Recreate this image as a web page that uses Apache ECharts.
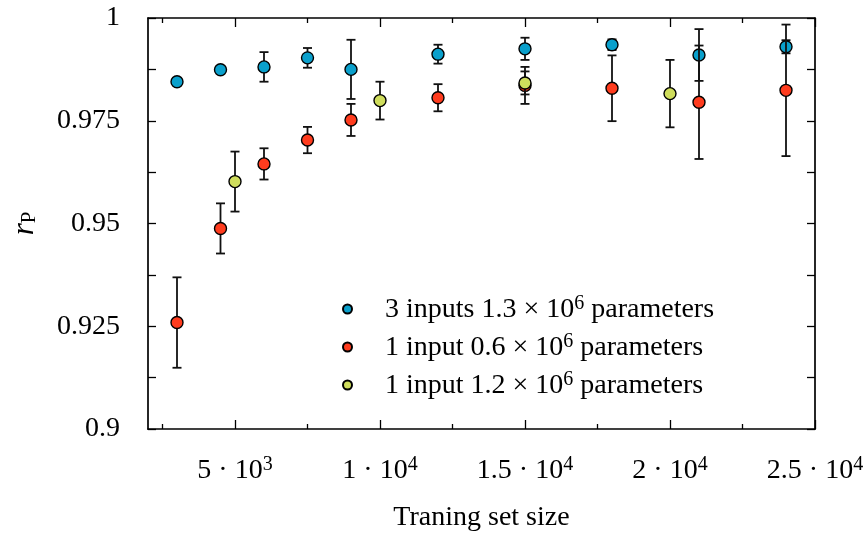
<!DOCTYPE html>
<html>
<head>
<meta charset="utf-8">
<script src="https://cdn.jsdelivr.net/npm/echarts@6/dist/echarts.min.js"></script>
<style>
html,body{margin:0;padding:0;background:#fff;}
#main{width:866px;height:534px;}
</style>
</head>
<body>
<div id="main"></div>
<script>
// axis ranges and ticks
var xRange = [2000, 25000];
var yRange = [0.9, 1];
var xMajorTicks = [5000, 10000, 15000, 20000, 25000];
var xMinorTicks = [2500, 7500, 12500, 17500, 22500];
var xTickLabels = ['5 · 10^3', '1 · 10^4', '1.5 · 10^4', '2 · 10^4', '2.5 · 10^4'];
var yTickStep = 0.0125;
var yLabelValues = [0.9, 0.925, 0.95, 0.975, 1];
var yTickLabels = ['0.9', '0.925', '0.95', '0.975', '1'];

// series
var seriesNames = [
    '3 inputs 1.3 × 10^6 parameters',
    '1 input 0.6 × 10^6 parameters',
    '1 input 1.2 × 10^6 parameters'
];

var sizeThree = [3000, 4500, 6000, 7500, 9000, 12000, 15000, 18000, 21000, 24000];
var rThree    = [0.9845, 0.9874, 0.9881, 0.9903, 0.9875, 0.9912, 0.9925, 0.9935, 0.9910, 0.9930];
var errThree  = [0.0004, 0.0005, 0.0036, 0.0024, 0.0072, 0.0023, 0.0027, 0.0013, 0.0063, 0.0016];

var sizeOneSmall = [3000, 4500, 6000, 7500, 9000, 12000, 15000, 18000, 21000, 24000];
var rOneSmall    = [0.9259, 0.9488, 0.9645, 0.9703, 0.9752, 0.9806, 0.9836, 0.9829, 0.9795, 0.9824];
var errOneSmall  = [0.0110, 0.0061, 0.0038, 0.0032, 0.0039, 0.0033, 0.0045, 0.0080, 0.0138, 0.0160];

var sizeOneBig = [5000, 10000, 15000, 20000];
var rOneBig    = [0.9602, 0.9799, 0.9842, 0.9816];
var errOneBig  = [0.0073, 0.0046, 0.0028, 0.0082];

var FONT = 'Liberation Serif';
var FS = 28;

function toRich(s){
    return s.split(/\^(\d+)/).map(function(p, i){
        if(p === '') return '';
        return i % 2 ? '{sup|' + p + '}' : '{n|' + p + '}';
    }).join('');
}

function richStyle(lh){
    return {
        n: {fontFamily: FONT, fontSize: FS, color: '#000', lineHeight: lh, verticalAlign: 'bottom'},
        sup: {fontFamily: FONT, fontSize: 20, color: '#000', lineHeight: 16, verticalAlign: 'top'}
    };
}

function zip(xs, ys, es){
    return xs.map(function(x, i){ return [x, ys[i], es[i]]; });
}

function errorBars(params, api){
    var x = api.value(0), y = api.value(1), e = api.value(2);
    var top = api.coord([x, y + e]);
    var bot = api.coord([x, y - e]);
    var w = 4.5;
    var style = {stroke: '#111', lineWidth: 1.8};
    return {
        type: 'group',
        children: [
            {type: 'line', shape: {x1: top[0], y1: top[1], x2: bot[0], y2: bot[1]}, style: style},
            {type: 'line', shape: {x1: top[0] - w, y1: top[1], x2: top[0] + w, y2: top[1]}, style: style},
            {type: 'line', shape: {x1: bot[0] - w, y1: bot[1], x2: bot[0] + w, y2: bot[1]}, style: style}
        ]
    };
}

function makeSeries(name, color, data, z){
    return [{
        name: name + ' err',
        type: 'custom',
        renderItem: errorBars,
        data: data,
        z: z,
        silent: true
    }, {
        name: name,
        type: 'scatter',
        data: data,
        symbolSize: 12,
        z: z + 1,
        itemStyle: {color: color, borderColor: '#000', borderWidth: 1.4, opacity: 1}
    }];
}

function valueAxis(extra){
    var base = {
        type: 'value',
        min: xRange[0],
        max: xRange[1],
        splitLine: {show: false},
        axisLine: {show: true, lineStyle: {color: '#000', width: 1.7}},
        axisLabel: {show: false}
    };
    for(var k in extra){ base[k] = extra[k]; }
    return base;
}

function create_chart(){
    var grid = {left: 148, right: 51, top: 18, bottom: 105, outerBoundsMode: 'none', containLabel: false};
    var majorTick = {show: true, inside: true, length: 9, customValues: xMajorTicks, lineStyle: {color: '#000', width: 1.3}};
    var minorTick = {show: true, inside: true, length: 5, customValues: xMinorTicks, lineStyle: {color: '#000', width: 1.3}};
    var yTick = {show: true, inside: true, length: 8, lineStyle: {color: '#000', width: 1.3}};

    var series = []
        .concat(makeSeries(seriesNames[0], '#0aa0cc', zip(sizeThree, rThree, errThree), 1))
        .concat(makeSeries(seriesNames[1], '#ff3c1e', zip(sizeOneSmall, rOneSmall, errOneSmall), 3))
        .concat(makeSeries(seriesNames[2], '#cfdd5c', zip(sizeOneBig, rOneBig, errOneBig), 5));

    return {
        animation: false,
        backgroundColor: '#fff',
        grid: [grid, grid],
        legend: {
            data: seriesNames,
            orient: 'vertical',
            left: 337,
            top: 289,
            itemWidth: 9,
            itemHeight: 9,
            itemGap: 8,
            selectedMode: false,
            formatter: function(name){ return toRich(name); },
            textStyle: {padding: [0, 0, 0, 28], rich: richStyle(30)}
        },
        xAxis: [
            valueAxis({
                gridIndex: 0,
                position: 'bottom',
                axisTick: majorTick,
                axisLabel: {
                    show: true,
                    customValues: xMajorTicks,
                    margin: 26,
                    formatter: function(v){
                        var i = xMajorTicks.indexOf(v);
                        return i < 0 ? '' : toRich(xTickLabels[i]);
                    },
                    rich: richStyle(30)
                },
                name: 'Traning set size',
                nameLocation: 'middle',
                nameGap: 75,
                nameTextStyle: {fontFamily: FONT, fontSize: FS, color: '#000'}
            }),
            valueAxis({gridIndex: 0, position: 'top', axisTick: majorTick}),
            valueAxis({gridIndex: 1, position: 'bottom', axisTick: minorTick, axisLine: {show: false}}),
            valueAxis({gridIndex: 1, position: 'top', axisTick: minorTick, axisLine: {show: false}})
        ],
        yAxis: [{
            gridIndex: 0,
            type: 'value',
            position: 'left',
            min: yRange[0],
            max: yRange[1],
            interval: yTickStep,
            splitLine: {show: false},
            axisLine: {show: true, lineStyle: {color: '#000', width: 1.7}},
            axisTick: yTick,
            axisLabel: {
                show: true,
                margin: 28,
                color: '#000',
                fontFamily: FONT,
                fontSize: FS,
                formatter: function(v){
                    for(var i = 0; i < yLabelValues.length; i++){
                        if(Math.abs(yLabelValues[i] - v) < 1e-6) return yTickLabels[i];
                    }
                    return '';
                }
            },
            name: '{r|r}{sub|P}',
            nameLocation: 'middle',
            nameGap: 108,
            nameRotate: 90,
            nameTextStyle: {
                rich: {
                    r: {fontFamily: FONT, fontStyle: 'italic', fontSize: 31, color: '#000', lineHeight: 30},
                    sub: {fontFamily: FONT, fontSize: 21, color: '#000', lineHeight: 22, verticalAlign: 'bottom'}
                }
            }
        }, {
            gridIndex: 0,
            type: 'value',
            position: 'right',
            min: yRange[0],
            max: yRange[1],
            interval: yTickStep,
            splitLine: {show: false},
            axisLine: {show: true, lineStyle: {color: '#000', width: 1.7}},
            axisTick: yTick,
            axisLabel: {show: false}
        }, {
            gridIndex: 1,
            type: 'value',
            show: false,
            min: yRange[0],
            max: yRange[1]
        }],
        series: series
    };
}

var myChart = echarts.init(document.getElementById('main'), null, {renderer: 'canvas'});
myChart.setOption(create_chart());
</script>
</body>
</html>
